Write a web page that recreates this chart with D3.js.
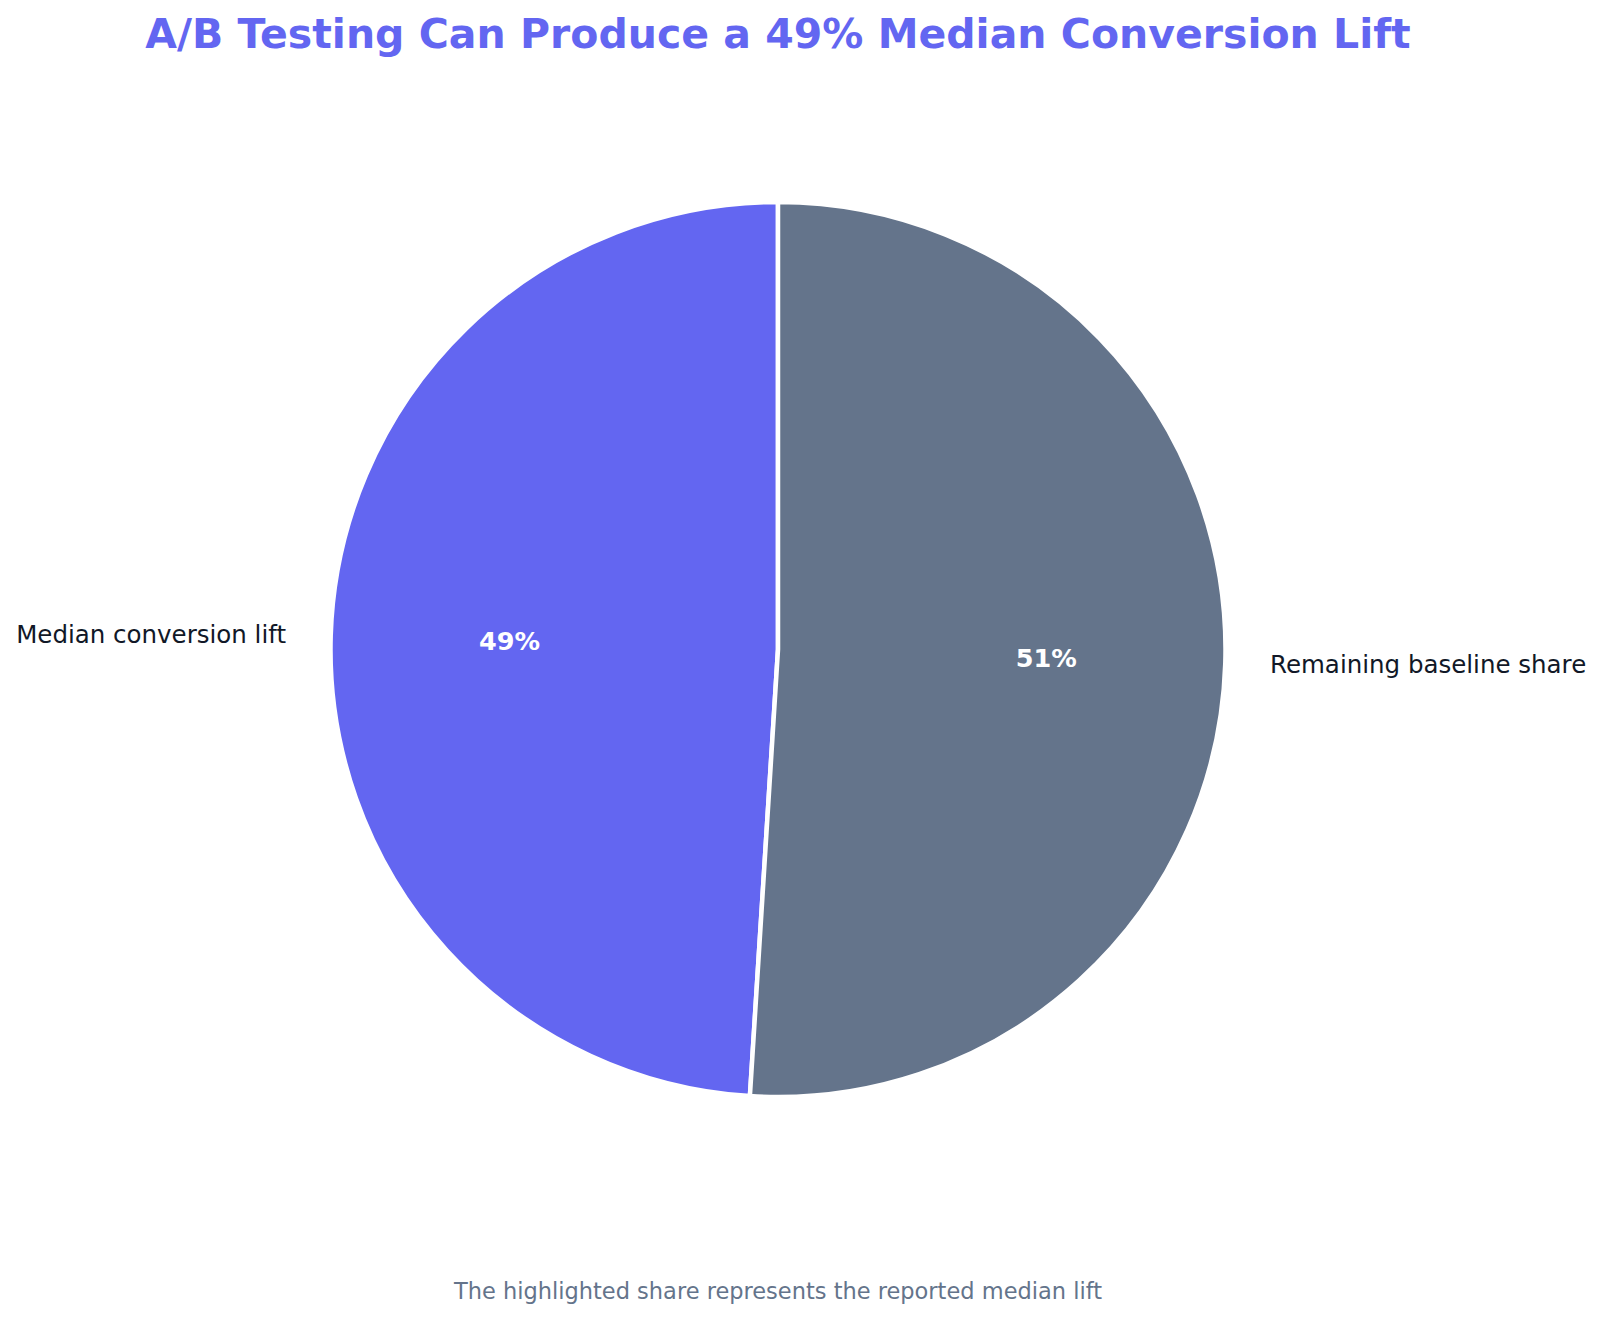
<!DOCTYPE html>
<html>
<head>
<meta charset="utf-8">
<script src="https://cdn.jsdelivr.net/npm/d3@7"></script>
<style>
  body { margin: 0; background: #fff; }
  svg { display: block; font-family: "DejaVu Sans", sans-serif; }
</style>
</head>
<body>
<svg id="chart"></svg>
<script>
const labels = ["Median conversion lift", "Remaining baseline share"];
const values = [49, 51];
const colors = ["#6366F1", "#64748B"];

const titleText = "A/B Testing Can Produce a 49% Median Conversion Lift";
const noteText = "The highlighted share represents the reported median lift";

const width = 1600;
const height = 1318;
const cx = 778;
const cy = 649.5;
const radius = 447.5;

const svg = d3
  .select("#chart")
  .attr("width", width)
  .attr("height", height)
  .attr("viewBox", `0 0 ${width} ${height}`);

// start at top, go counterclockwise (like matplotlib startangle=90)
const pie = d3
  .pie()
  .sort(null)
  .startAngle(0)
  .endAngle(-2 * Math.PI)
  .value((d) => d);

const arcs = pie(values);
const arc = d3.arc().innerRadius(0).outerRadius(radius);

const g = svg.append("g").attr("transform", `translate(${cx},${cy})`);

g.selectAll("path.slice")
  .data(arcs)
  .join("path")
  .attr("class", "slice")
  .attr("d", arc)
  .attr("fill", (d, i) => colors[i])
  .attr("stroke", "white")
  .attr("stroke-width", 4.5)
  .attr("stroke-linejoin", "round");

function pointAt(d, dist) {
  const a = (d.startAngle + d.endAngle) / 2;
  return [Math.sin(a) * radius * dist, -Math.cos(a) * radius * dist];
}

// category labels outside the pie
g.selectAll("text.label")
  .data(arcs)
  .join("text")
  .attr("class", "label")
  .attr("x", (d) => pointAt(d, 1.1)[0])
  .attr("y", (d) => pointAt(d, 1.1)[1])
  .attr("text-anchor", (d) => (pointAt(d, 1)[0] < 0 ? "end" : "start"))
  .attr("dominant-baseline", "central")
  .attr("fill", "#111827")
  .style("font-size", "24.5px")
  .text((d, i) => labels[i]);

// percent labels inside
g.selectAll("text.pct")
  .data(arcs)
  .join("text")
  .attr("class", "pct")
  .attr("x", (d) => pointAt(d, 0.6)[0])
  .attr("y", (d) => pointAt(d, 0.6)[1])
  .attr("text-anchor", "middle")
  .attr("dominant-baseline", "central")
  .attr("fill", "white")
  .style("font-size", "25.5px")
  .style("font-weight", "bold")
  .text((d) => `${Math.round(d.data)}%`);

svg
  .append("text")
  .attr("x", cx)
  .attr("y", 48)
  .attr("text-anchor", "middle")
  .attr("fill", "#6366F1")
  .style("font-size", "41px")
  .style("font-weight", "bold")
  .text(titleText);

svg
  .append("text")
  .attr("x", cx)
  .attr("y", 1299)
  .attr("text-anchor", "middle")
  .attr("fill", "#64748B")
  .style("font-size", "22.5px")
  .text(noteText);
</script>
</body>
</html>
